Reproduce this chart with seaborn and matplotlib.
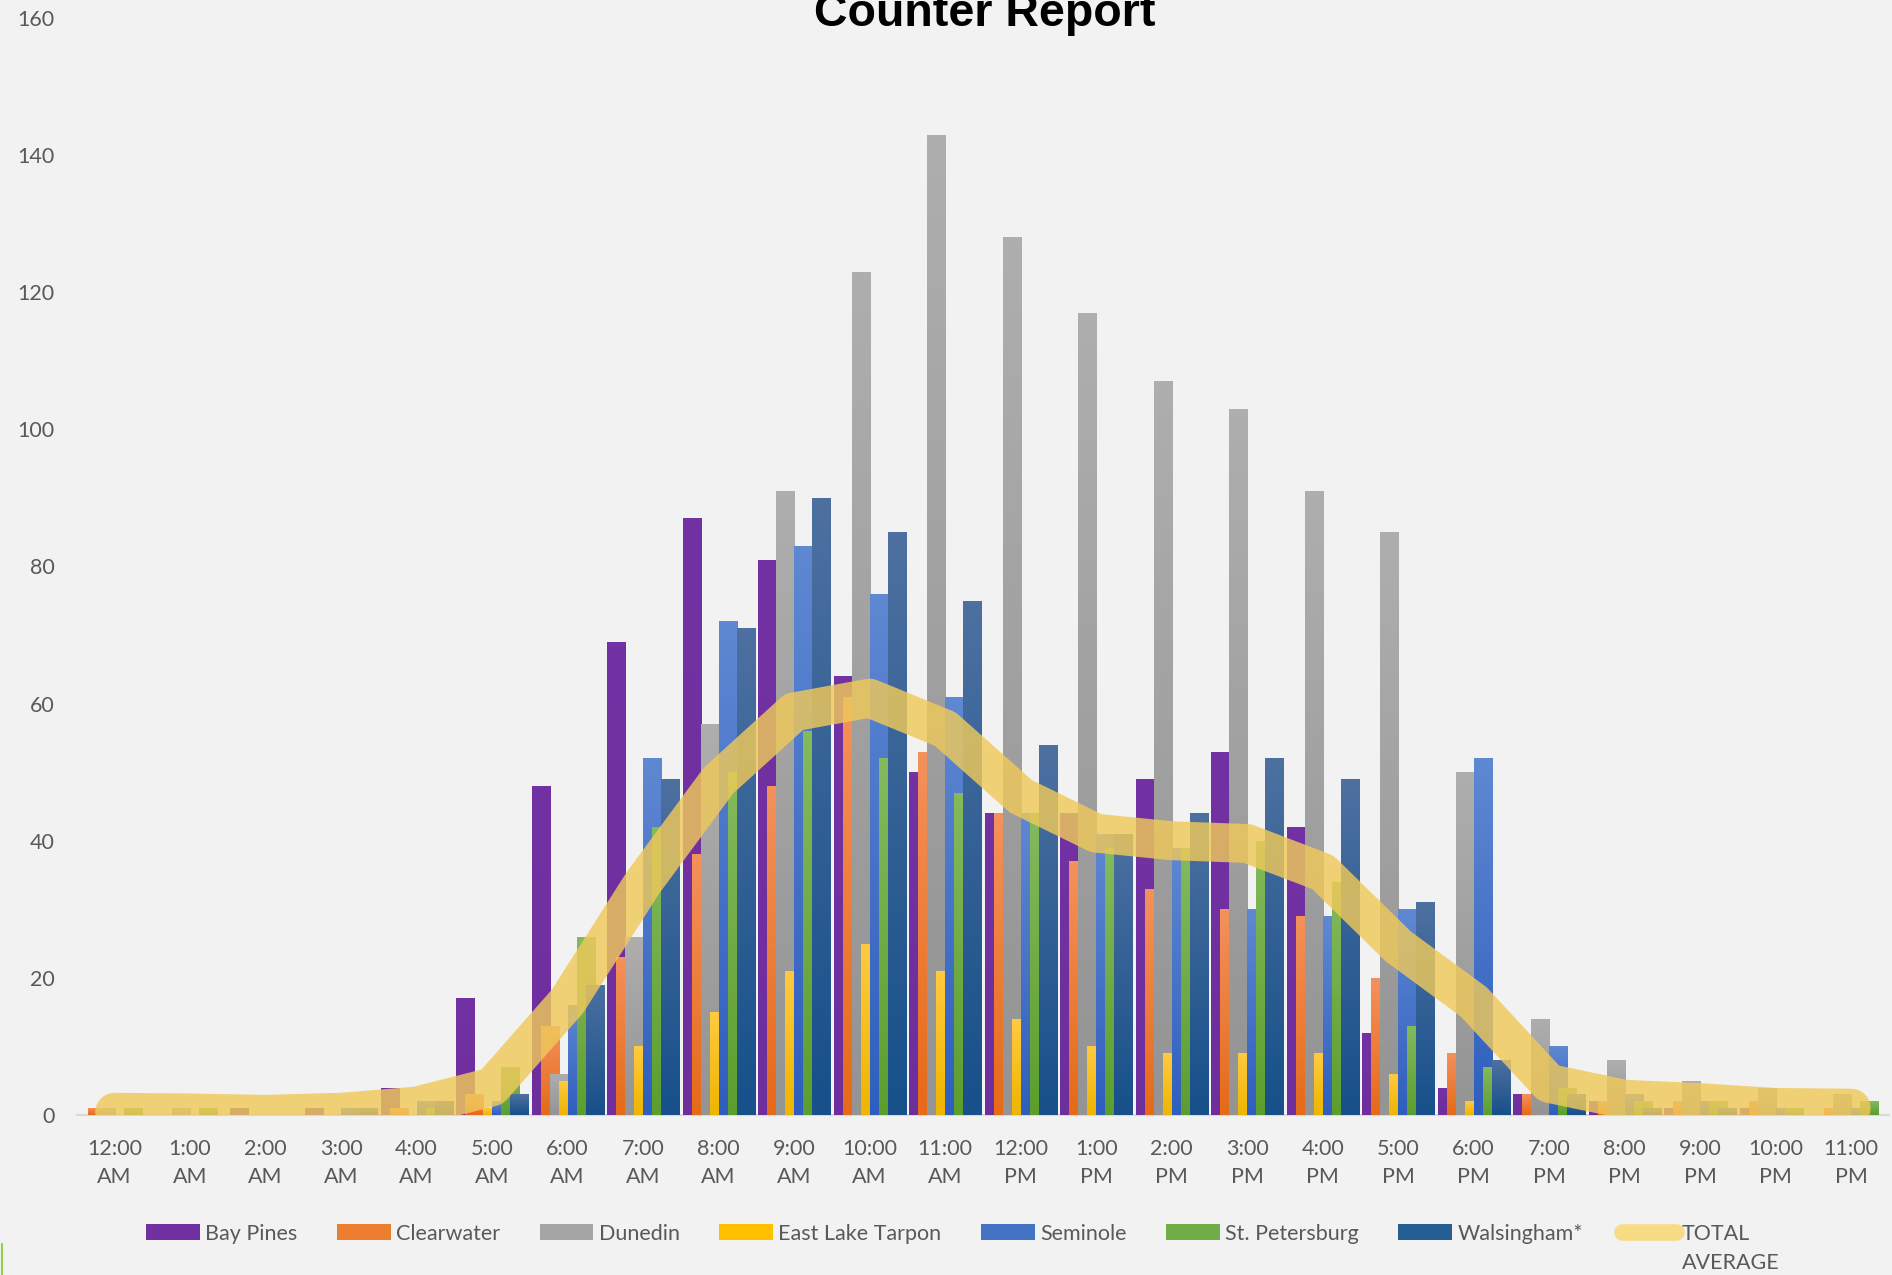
import numpy as np
import pandas as pd
import matplotlib
matplotlib.use("Agg")
import matplotlib.pyplot as plt
import seaborn as sns
from matplotlib.colors import LinearSegmentedColormap
from matplotlib.patches import Patch
from matplotlib.lines import Line2D

# hourly counts
hours = ['12:00\nAM'] + [f'{h}:00\nAM' for h in range(1, 12)] + \
        ['12:00\nPM'] + [f'{h}:00\nPM' for h in range(1, 12)]

bay_pines = [0, 0, 1, 1, 4, 17, 48, 69, 87, 81, 64, 50, 44, 44, 49, 53, 42, 12, 4, 3, 2, 1, 1, 0]
clearwater = [1, 0, 0, 0, 1, 3, 13, 23, 38, 48, 61, 53, 44, 37, 33, 30, 29, 20, 9, 3, 2, 2, 2, 1]
dunedin = [1, 1, 0, 0, 0, 0, 6, 26, 57, 91, 123, 143, 128, 117, 107, 103, 91, 85, 50, 14, 8, 5, 4, 3]
east_lake_tarpon = [0, 0, 0, 0, 0, 1, 5, 10, 15, 21, 25, 21, 14, 10, 9, 9, 9, 6, 2, 0, 0, 0, 0, 0]
seminole = [0, 0, 0, 1, 2, 2, 16, 52, 72, 83, 76, 61, 44, 41, 39, 30, 29, 30, 52, 10, 3, 2, 1, 1]
st_petersburg = [1, 1, 0, 0, 1, 7, 26, 42, 50, 56, 52, 47, 44, 39, 39, 40, 34, 13, 7, 4, 2, 2, 1, 2]
walsingham = [0, 0, 0, 1, 2, 3, 19, 49, 71, 90, 85, 75, 54, 41, 44, 52, 49, 31, 8, 3, 1, 1, 0, 0]
total_average = [0.4, 0.3, 0.1, 0.4, 1.3, 4.1, 16.6, 33.9, 48.8, 58.8, 60.8, 56.3,
                 46.5, 41.1, 40.0, 39.6, 35.4, 24.6, 16.5, 4.6, 2.3, 1.8, 1.1, 1.0]

series_names = ['Bay Pines', 'Clearwater', 'Dunedin', 'East Lake Tarpon',
                'Seminole', 'St. Petersburg', 'Walsingham*']
series_values = [bay_pines, clearwater, dunedin, east_lake_tarpon,
                 seminole, st_petersburg, walsingham]

# colours: flat colour, gradient top, gradient bottom
flat = ['#7030A0', '#ED7D31', '#A5A5A5', '#FFC000', '#4472C4', '#70AD47', '#255E91']
grad_top = ['#7332A3', '#F4915C', '#AEAEAE', '#FFCA40', '#5F88D2', '#84BA5E', '#4D70A0']
grad_bot = ['#6E2E9C', '#E66A18', '#949494', '#EEB500', '#2F5FBE', '#5C9E2E', '#17508A']
bg = '#F2F2F2'
text_col = '#595959'

sns.set_theme(style="white")
plt.rcParams['font.family'] = ['Lato', 'DejaVu Sans']

fig = plt.figure(figsize=(18.92, 12.75), dpi=100, facecolor=bg)
ax = fig.add_axes([0.0406, 0.1255, 0.9578, 0.8604])
ax.set_facecolor(bg)

step = 9 / 75.5      # bars overlap by half
bar_w = 18 / 75.5
grad = np.linspace(0, 1, 64).reshape(-1, 1)
pos = np.arange(len(hours))

for i, (name, vals) in enumerate(zip(series_names, series_values)):
    df = pd.DataFrame({'x': pos + (i - 3) * step, 'y': vals})
    n_before = len(ax.patches)
    z = 2 + i * 0.1
    sns.barplot(data=df, x='x', y='y', native_scale=True, width=bar_w,
                color=flat[i], errorbar=None, linewidth=0, zorder=z, ax=ax)
    cmap = LinearSegmentedColormap.from_list(name, [grad_bot[i], grad_top[i]])
    for p in ax.patches[n_before:]:
        p.set_zorder(z)
        h = p.get_height()
        if h <= 0:
            continue
        x0, y0 = p.get_xy()
        im = ax.imshow(grad, extent=[x0, x0 + p.get_width(), y0, y0 + h],
                       origin='lower', cmap=cmap, aspect='auto',
                       interpolation='bilinear', zorder=z + 0.01)
        im.set_clip_path(p)

sns.lineplot(x=pos, y=total_average, ax=ax, color='#EFC95A', alpha=0.82,
             linewidth=28, solid_capstyle='round', solid_joinstyle='round',
             zorder=6, legend=False)

ax.set_xlim(-0.5, 23.5)
ax.set_ylim(0, 160)
ax.set_xticks(pos)
ax.set_xticklabels(hours, linespacing=1.55)
ax.set_yticks(range(0, 161, 20))
ax.set_xlabel('')
ax.set_ylabel('')
ax.tick_params(axis='both', length=0, labelsize=15.5, labelcolor=text_col)
ax.tick_params(axis='y', pad=16)
ax.tick_params(axis='x', pad=17)
for s in ['left', 'top', 'right']:
    ax.spines[s].set_visible(False)
ax.spines['bottom'].set_color('#D9D9D9')
ax.spines['bottom'].set_linewidth(1.5)
ax.spines['bottom'].set_zorder(1)
ax.grid(False)

fig.text(985 / 1892, 1 - 26.5 / 1275, 'Counter Report', ha='center', va='baseline',
         fontsize=33.5, fontweight='bold', family=['Liberation Sans', 'DejaVu Sans'],
         color='black')

handles = [Patch(facecolor=c, edgecolor='none') for c in flat]
handles.append(Line2D([], [], color='#F8DC85', linewidth=12, solid_capstyle='round'))
labels = series_names + ['TOTAL']
leg = fig.legend(handles, labels, loc='center', bbox_to_anchor=(0.501, 0.0325),
                 ncol=8, frameon=False, fontsize=15.5, handlelength=2.5,
                 handleheight=0.8, handletextpad=0.25, columnspacing=1.83,
                 labelcolor=text_col, borderpad=0)

fig.canvas.draw()
bb = leg.get_texts()[-1].get_window_extent()
W, H = fig.canvas.get_width_height()
fig.text(bb.x0 / W, (bb.y0 - 29) / H, 'AVERAGE', ha='left', va='bottom',
         fontsize=15.5, color=text_col)

fig.add_artist(Line2D([0.0008, 0.0008], [0, 0.024], color='#92D050', linewidth=1.5))

fig.savefig('out.png', dpi=100, facecolor=bg)
